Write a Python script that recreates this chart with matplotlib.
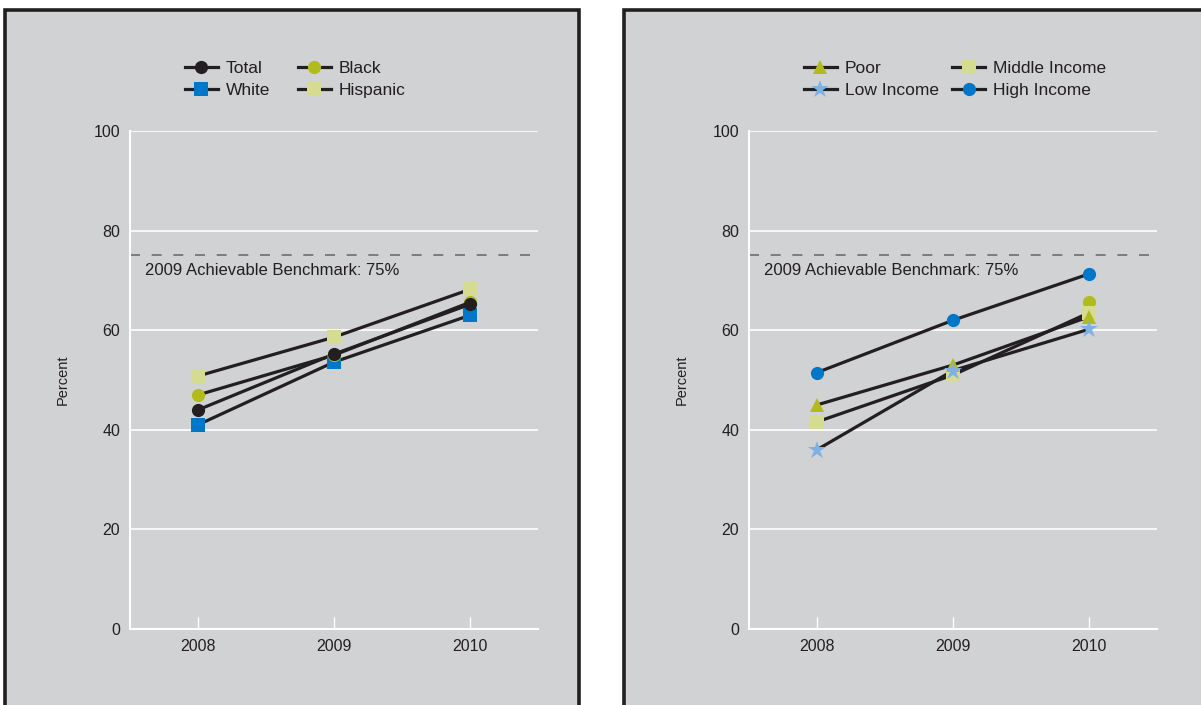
import matplotlib
matplotlib.use("Agg")
import matplotlib.pyplot as plt
from matplotlib.patches import Rectangle
from matplotlib.lines import Line2D

plt.rcParams['font.family'] = ['Liberation Sans', 'DejaVu Sans']

years = [2008, 2009, 2010]
yticks = [0, 20, 40, 60, 80, 100]
benchmark = 75
benchmark_label = "2009 Achievable Benchmark: 75%"

# Left panel: race/ethnicity
total = [44, 55.2, 65.2]
black = [47, 55, 65.6]
white = [41, 53.6, 63]
hispanic = [50.8, 58.6, 68.2]

# Right panel: income
poor = [45, 53, 62.7]
middle_income = [41.6, 51, 63.5]
low_income = [36, 51.9, 60.2]
high_income = [51.5, 62, 71.3]
extra_green_2010 = [65.6]

DARK = '#231f20'
GREEN = '#b2bb1c'
BLUE = '#0077c8'
PALE = '#d5db91'
LIGHTBLUE = '#7fb0e3'
BG = '#d1d2d4'
GRAY = '#6d6e71'

W, H = 1201, 705
fig = plt.figure(figsize=(W / 100, H / 100), dpi=100)
fig.patch.set_facecolor('white')

# panel backgrounds
for (x0, x1) in [(5, 579), (624, 1215)]:
    r = Rectangle((x0 / W, -0.05), (x1 - x0) / W, 1 - 10 / H + 0.05,
                  transform=fig.transFigure, facecolor=BG, edgecolor=DARK,
                  linewidth=2.6, clip_on=False, zorder=-5)
    fig.patches.append(r)


def setup(ax):
    ax.set_facecolor('none')
    ax.set_xlim(2007.5, 2010.5)
    ax.set_ylim(0, 100)
    ax.set_yticks(yticks)
    ax.set_xticks(years)
    ax.set_xticklabels([str(y) for y in years])
    for s in ['top', 'right']:
        ax.spines[s].set_visible(False)
    for s in ['left', 'bottom']:
        ax.spines[s].set_color('white')
        ax.spines[s].set_linewidth(1.5)
    ax.grid(axis='y', color='white', linewidth=1.2)
    ax.set_axisbelow(True)
    ax.tick_params(axis='y', length=0, pad=7, labelsize=11.5, labelcolor=DARK)
    ax.tick_params(axis='x', direction='in', length=9, width=1, color='white',
                   pad=7, labelsize=11.5, labelcolor=DARK)
    ax.set_ylabel('Percent', fontsize=10.5, color=DARK, labelpad=17)
    ax.axhline(benchmark, color=GRAY, linewidth=1.2, linestyle=(0, (6, 7)), zorder=2)
    ax.text(0.037, 0.719, benchmark_label, transform=ax.transAxes,
            fontsize=12, color=DARK, va='center', ha='left')


def series(ax, vals, marker, color, ms, label):
    ax.plot(years, vals, color=DARK, linewidth=2.3, zorder=3)
    ax.plot(years, vals, linestyle='none', marker=marker, color=color,
            markersize=ms, markeredgewidth=0, zorder=4)
    return Line2D([], [], color=DARK, linewidth=2.3, marker=marker,
                  markerfacecolor=color, markeredgewidth=0, markersize=ms,
                  label=label)


axw = 408 / W
axh = 498 / H
axb = 1 - 629 / H

ax1 = fig.add_axes([130 / W, axb, axw, axh])
setup(ax1)
h_h = series(ax1, hispanic, 's', PALE, 9.5, 'Hispanic')
h_w = series(ax1, white, 's', BLUE, 9.5, 'White')
h_b = series(ax1, black, 'o', GREEN, 9.5, 'Black')
h_t = series(ax1, total, 'o', DARK, 9.5, 'Total')
leg1 = ax1.legend(handles=[h_t, h_w, h_b, h_h], ncol=2, loc='center',
                  bbox_to_anchor=(0.405, 1.103), frameon=False, fontsize=12.5,
                  handlelength=1.9, handletextpad=0.45, columnspacing=1.6,
                  labelspacing=0.4, labelcolor=DARK)

ax2 = fig.add_axes([749 / W, axb, axw, axh])
setup(ax2)
h_m = series(ax2, middle_income, 's', PALE, 9.5, 'Middle Income')
ax2.plot([2010], extra_green_2010, linestyle='none', marker='o', color=GREEN,
         markersize=9.5, markeredgewidth=0, zorder=3.5)
h_p = series(ax2, poor, '^', GREEN, 9.5, 'Poor')
h_l = series(ax2, low_income, '*', LIGHTBLUE, 13.5, 'Low Income')
h_hi = series(ax2, high_income, 'o', BLUE, 9.5, 'High Income')
leg2 = ax2.legend(handles=[h_p, h_l, h_m, h_hi], ncol=2, loc='center',
                  bbox_to_anchor=(0.505, 1.103), frameon=False, fontsize=12.5,
                  handlelength=1.9, handletextpad=0.45, columnspacing=0.8,
                  labelspacing=0.4, labelcolor=DARK)

fig.savefig('out.png', dpi=100, facecolor='white')
